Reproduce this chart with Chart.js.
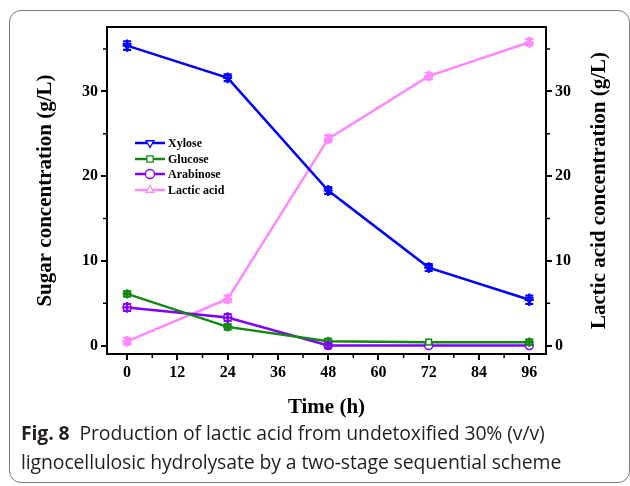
<!DOCTYPE html>
<html><head><meta charset="utf-8">
<script src="https://cdn.jsdelivr.net/npm/chart.js@4"></script>
<style>
html,body{margin:0;padding:0;background:#fff;width:630px;height:486px;overflow:hidden;}
#card{position:absolute;left:9px;top:10px;width:621px;height:473px;border:1px solid #7a7a7a;border-radius:12px;box-sizing:border-box;}
#wrap{position:absolute;left:0;top:0;width:630px;height:486px;}
#cap{position:absolute;left:21px;top:418px;font-family:'Open Sans';font-size:19.4px;line-height:29px;color:#231f20;white-space:nowrap;letter-spacing:-0.1px;}
#cap b{font-weight:700;}
</style></head>
<body>
<div id="card"></div>
<div id="wrap"><canvas id="c" width="630" height="486"></canvas></div>
<div id="cap"><b>Fig. 8</b>&nbsp; Production of lactic acid from undetoxified 30% (v/v)<br>lignocellulosic hydrolysate by a two-stage sequential scheme</div>
<script>
// ---- data ----
const timeH      = [0, 24, 48, 72, 96];
const xylose     = [35.4, 31.6, 18.3, 9.2, 5.4];
const glucose    = [6.1, 2.2, 0.5, 0.4, 0.4];
const arabinose  = [4.5, 3.3, 0.0, 0.0, 0.0];
const lacticAcid = [0.5, 5.5, 24.4, 31.8, 35.8];
const xyloseErr     = [0.5, 0.4, 0.4, 0.4, 0.5];
const glucoseErr    = [0.3, 0.3, 0.3, 0.0, 0.3];
const arabinoseErr  = [0.4, 0.4, 0.3, 0.0, 0.0];
const lacticAcidErr = [0.4, 0.4, 0.4, 0.4, 0.4];
const seriesNames = ['Xylose', 'Glucose', 'Arabinose', 'Lactic acid'];
const xTicks = [0, 12, 24, 36, 48, 60, 72, 84, 96];
const xMinorTicks = [6, 18, 30, 42, 54, 66, 78, 90];
const yTicks = [0, 10, 20, 30];
const yMinorTicks = [5, 15, 25, 35];
const rightTitle = 'Lactic acid concentration (g/L)';

const pts = arr => timeH.map((t, i) => ({x: t, y: arr[i]}));
const serif = 'Liberation Serif, Times New Roman, serif';

function mkDs(label, arr, err, color, style, rot, axis) {
  return {
    label, data: pts(arr), err,
    borderColor: color, backgroundColor: '#fff',
    borderWidth: 2.5, pointStyle: style, pointRotation: rot,
    pointRadius: 4, pointBorderWidth: 1.5, pointBackgroundColor: '#fff',
    pointBorderColor: color, tension: 0, yAxisID: axis
  };
}

const datasets = [
  mkDs(seriesNames[0], xylose, xyloseErr, '#0000ff', 'triangle', 180, 'y'),
  mkDs(seriesNames[1], glucose, glucoseErr, '#118811', 'rect', 0, 'y'),
  mkDs(seriesNames[2], arabinose, arabinoseErr, '#8000ff', 'circle', 0, 'y'),
  mkDs(seriesNames[3], lacticAcid, lacticAcidErr, '#ff88ff', 'triangle', 0, 'y2')
];

const errPlugin = {
  id: 'errbars',
  afterDatasetsDraw(chart) {
    const ctx = chart.ctx;
    chart.data.datasets.forEach((ds, i) => {
      const meta = chart.getDatasetMeta(i);
      const ys = chart.scales[ds.yAxisID];
      ctx.save();
      ctx.strokeStyle = ds.borderColor;
      ctx.lineWidth = 2.2;
      meta.data.forEach((el, j) => {
        const e = ds.err[j];
        if (!e) return;
        const v = ds.data[j].y;
        const y1 = ys.getPixelForValue(v + e) - 2, y2 = ys.getPixelForValue(v - e) + 2;
        ctx.beginPath();
        ctx.moveTo(el.x, y1); ctx.lineTo(el.x, y2);
        ctx.moveTo(el.x - 4, y1 + 2); ctx.lineTo(el.x + 4, y1 + 2);
        ctx.moveTo(el.x - 4, y2 - 2); ctx.lineTo(el.x + 4, y2 - 2);
        ctx.moveTo(el.x - 4.5, el.y); ctx.lineTo(el.x + 4.5, el.y);
        ctx.stroke();
      });
      ctx.restore();
    });
  }
};

const framePlugin = {
  id: 'frame',
  afterDraw(chart) {
    const ctx = chart.ctx, a = chart.chartArea;
    ctx.save();
    ctx.strokeStyle = '#000'; ctx.lineWidth = 2;
    ctx.strokeRect(a.left, a.top, a.right - a.left, a.bottom - a.top);
    // minor ticks
    ctx.lineWidth = 1.5;
    ctx.beginPath();
    xMinorTicks.forEach(t => {
      const x = chart.scales.x.getPixelForValue(t);
      ctx.moveTo(x, a.bottom); ctx.lineTo(x, a.bottom + 4);
    });
    yMinorTicks.forEach(t => {
      const y = chart.scales.y.getPixelForValue(t);
      ctx.moveTo(a.left, y); ctx.lineTo(a.left - 4, y);
      const y2 = chart.scales.y2.getPixelForValue(t);
      ctx.moveTo(a.right, y2); ctx.lineTo(a.right + 4, y2);
    });
    ctx.stroke();
    // right axis title, reading bottom to top
    ctx.save();
    ctx.translate(600, (a.top + a.bottom) / 2);
    ctx.rotate(-Math.PI / 2);
    ctx.font = 'bold 21px ' + serif;
    ctx.fillStyle = '#000';
    ctx.textAlign = 'center'; ctx.textBaseline = 'middle';
    ctx.fillText(rightTitle, 0, 0);
    ctx.restore();
    // legend
    const rows = [143, 159, 174, 190];
    ctx.font = 'bold 12px ' + serif;
    ctx.textBaseline = 'middle';
    chart.data.datasets.forEach((ds, i) => {
      const y = rows[i];
      ctx.strokeStyle = ds.borderColor; ctx.lineWidth = 2.5;
      ctx.beginPath(); ctx.moveTo(135, y); ctx.lineTo(165, y); ctx.stroke();
      ctx.fillStyle = '#fff'; ctx.lineWidth = 1.3;
      Chart.helpers.drawPoint(ctx, {pointStyle: ds.pointStyle, radius: 4.5, rotation: ds.pointRotation, borderWidth: 1.3}, 150, y);
      ctx.fillStyle = '#000';
      ctx.fillText(ds.label, 168, y + 1);
    });
    ctx.restore();
  }
};

const tickFont = {family: serif, size: 16, weight: 'bold'};
const titleFont = {family: serif, size: 21, weight: 'bold'};
const gridOpt = {drawOnChartArea: false, drawTicks: true, tickLength: 6, lineWidth: 2, color: '#000'};

new Chart(document.getElementById('c'), {
  type: 'line',
  data: {datasets},
  options: {
    responsive: false, animation: false,
    layout: {padding: {left: 27, right: 14, top: 27, bottom: 66}},
    plugins: {legend: {display: false}, tooltip: {enabled: false}},
    scales: {
      x: {
        type: 'linear', min: -4.8, max: 100,
        afterBuildTicks: s => { s.ticks = xTicks.map(v => ({value: v})); },
        afterFit: s => { s.height = 66; },
        grid: gridOpt, border: {display: true, color: '#000', width: 2},
        ticks: {font: tickFont, color: '#000', padding: 3, maxRotation: 0},
        title: {display: true, text: 'Time (h)', font: titleFont, color: '#000', padding: {top: 0, bottom: 0}}
      },
      y: {
        type: 'linear', position: 'left', min: -1, max: 37.6,
        afterBuildTicks: s => { s.ticks = yTicks.map(v => ({value: v})); },
        afterFit: s => { s.width = 80; },
        grid: gridOpt, border: {display: true, color: '#000', width: 2},
        ticks: {font: tickFont, color: '#000', padding: 3},
        title: {display: true, text: 'Sugar concentration (g/L)', font: titleFont, color: '#000', padding: {top: 6, bottom: 0}}
      },
      y2: {
        type: 'linear', position: 'right', min: -1, max: 37.6,
        afterBuildTicks: s => { s.ticks = yTicks.map(v => ({value: v})); },
        afterFit: s => { s.width = 70; },
        grid: gridOpt, border: {display: true, color: '#000', width: 2},
        ticks: {font: tickFont, color: '#000', padding: 3},
        title: {display: false}
      }
    }
  },
  plugins: [errPlugin, framePlugin]
});
</script>
</body></html>
